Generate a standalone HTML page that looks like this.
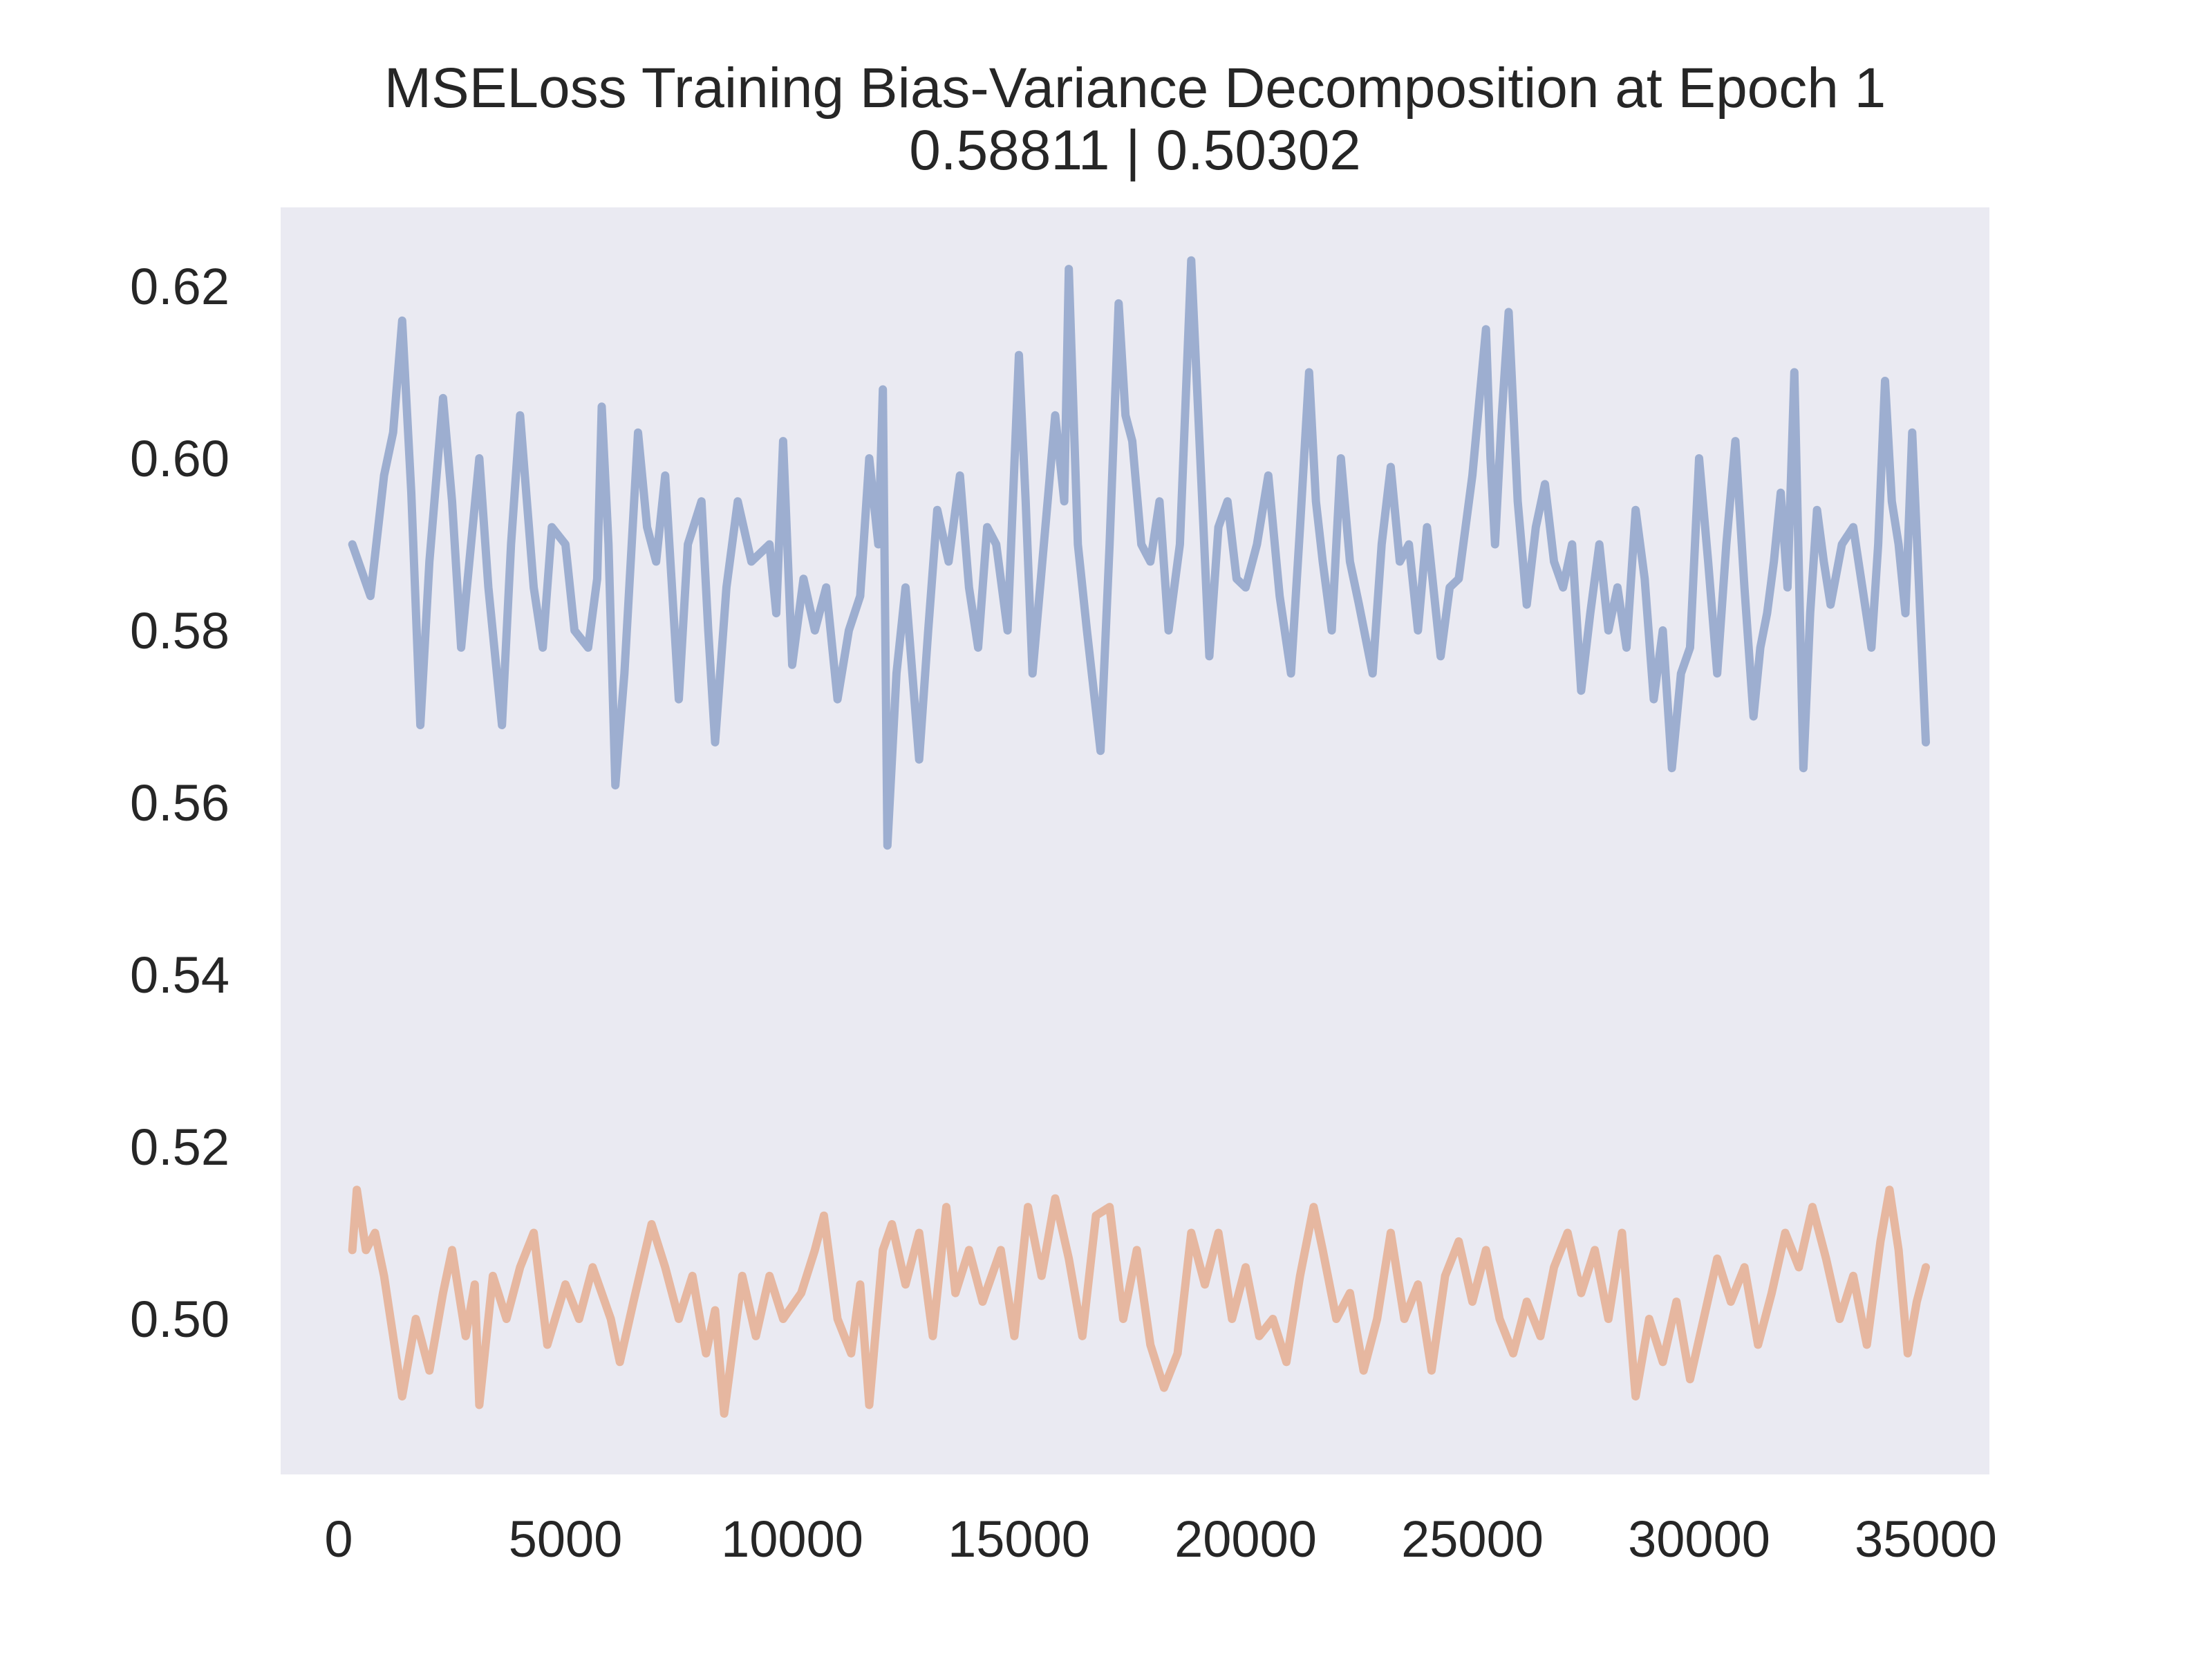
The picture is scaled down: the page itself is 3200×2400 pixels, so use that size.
<!DOCTYPE html>
<html><head><meta charset="utf-8"><style>
html,body{margin:0;padding:0;background:#fff;}
svg{display:block;font-family:"Liberation Sans",Arial,sans-serif;}
</style></head><body>
<svg id="chart" width="3200" height="2400" viewBox="0 0 3200 2400">
<rect x="0" y="0" width="3200" height="2400" fill="#ffffff"/>
<rect x="406" y="300" width="2472" height="1833" fill="#eaeaf2"/>
<text x="1642" y="155" text-anchor="middle" font-size="82" fill="#262626">MSELoss Training Bias-Variance Decomposition at Epoch 1</text>
<text x="1642" y="245" text-anchor="middle" font-size="82" fill="#262626">0.58811 | 0.50302</text>
<g id="ticks"></g>
<g id="series"></g>
</svg>
<script>
const xTicks=[0,5000,10000,15000,20000,25000,30000,35000];
const yTicks=[0.50,0.52,0.54,0.56,0.58,0.60,0.62];
const biasX=[300,700,1000,1200,1400,1600,1800,2000,2300,2500,2700,2900,3100,3300,3600,3800,4000,4300,4500,4700,5000,5200,5500,5700,5800,5950,6100,6300,6600,6800,7000,7200,7500,7700,8000,8150,8300,8550,8800,9100,9500,9650,9800,10000,10250,10500,10750,11000,11250,11500,11700,11900,12000,12100,12300,12500,12800,13000,13200,13450,13700,13900,14100,14300,14500,14750,15000,15150,15300,15550,15800,16000,16100,16300,16500,16800,17000,17200,17350,17500,17700,17900,18100,18300,18550,18800,19000,19200,19400,19600,19800,20000,20250,20500,20750,21000,21200,21400,21550,21700,21900,22100,22300,22500,22800,23000,23200,23400,23600,23800,24000,24300,24500,24700,25000,25300,25400,25500,25650,25800,26000,26200,26400,26600,26800,27000,27200,27400,27600,27800,28000,28200,28400,28600,28800,29000,29200,29400,29600,29800,30000,30200,30400,30600,30800,31000,31200,31350,31500,31650,31800,31950,32100,32300,32450,32600,32750,32900,33150,33400,33600,33800,33950,34100,34250,34400,34550,34700,34850,35000];
const biasY=[0.590,0.584,0.598,0.603,0.616,0.596,0.569,0.588,0.607,0.595,0.578,0.589,0.600,0.585,0.569,0.590,0.605,0.585,0.578,0.592,0.590,0.580,0.578,0.586,0.606,0.590,0.562,0.575,0.603,0.592,0.588,0.598,0.572,0.590,0.595,0.580,0.567,0.585,0.595,0.588,0.590,0.582,0.602,0.576,0.586,0.580,0.585,0.572,0.580,0.584,0.600,0.590,0.608,0.555,0.575,0.585,0.565,0.580,0.594,0.588,0.598,0.585,0.578,0.592,0.590,0.580,0.612,0.595,0.575,0.590,0.605,0.595,0.622,0.590,0.580,0.566,0.590,0.618,0.605,0.602,0.590,0.588,0.595,0.580,0.590,0.623,0.600,0.577,0.592,0.595,0.586,0.585,0.590,0.598,0.584,0.575,0.592,0.610,0.595,0.588,0.580,0.600,0.588,0.583,0.575,0.590,0.599,0.588,0.590,0.580,0.592,0.577,0.585,0.586,0.598,0.615,0.600,0.590,0.605,0.617,0.595,0.583,0.592,0.597,0.588,0.585,0.590,0.573,0.582,0.590,0.580,0.585,0.578,0.594,0.586,0.572,0.580,0.564,0.575,0.578,0.600,0.588,0.575,0.590,0.602,0.585,0.570,0.578,0.582,0.588,0.596,0.585,0.610,0.564,0.582,0.594,0.588,0.583,0.590,0.592,0.585,0.578,0.590,0.609,0.595,0.590,0.582,0.603,0.585,0.567];
const varX=[300,400,600,800,1000,1200,1400,1700,2000,2300,2500,2800,3000,3100,3400,3700,4000,4300,4600,5000,5300,5600,6000,6200,6500,6900,7200,7500,7800,8100,8300,8500,8900,9200,9500,9800,10200,10500,10700,11000,11300,11500,11700,12000,12200,12500,12800,13100,13400,13600,13900,14200,14600,14900,15200,15500,15800,16100,16400,16700,17000,17300,17600,17900,18200,18500,18800,19100,19400,19700,20000,20300,20600,20900,21200,21500,21700,22000,22300,22600,22900,23200,23500,23800,24100,24400,24700,25000,25300,25600,25900,26200,26500,26800,27100,27400,27700,28000,28300,28600,28900,29200,29500,29800,30100,30400,30700,31000,31300,31600,31900,32200,32500,32800,33100,33400,33700,34000,34200,34400,34600,34800,35000];
const varY=[0.508,0.515,0.508,0.510,0.505,0.498,0.491,0.500,0.494,0.503,0.508,0.498,0.504,0.490,0.505,0.500,0.506,0.510,0.497,0.504,0.500,0.506,0.500,0.495,0.502,0.511,0.506,0.500,0.505,0.496,0.501,0.489,0.505,0.498,0.505,0.500,0.503,0.508,0.512,0.500,0.496,0.504,0.490,0.508,0.511,0.504,0.510,0.498,0.513,0.503,0.508,0.502,0.508,0.498,0.513,0.505,0.514,0.507,0.498,0.512,0.513,0.500,0.508,0.497,0.492,0.496,0.510,0.504,0.510,0.500,0.506,0.498,0.500,0.495,0.505,0.513,0.508,0.500,0.503,0.494,0.500,0.510,0.500,0.504,0.494,0.505,0.509,0.502,0.508,0.500,0.496,0.502,0.498,0.506,0.510,0.503,0.508,0.500,0.510,0.491,0.500,0.495,0.502,0.493,0.500,0.507,0.502,0.506,0.497,0.503,0.510,0.506,0.513,0.507,0.500,0.505,0.497,0.509,0.515,0.508,0.496,0.502,0.506];
const NS='http://www.w3.org/2000/svg';
function xScale(v){return 490+v/35000*2296;}
function yScale(v){return 1908-(v-0.50)/0.02*249;}
const tg=document.getElementById('ticks');
xTicks.forEach(t=>{
  const el=document.createElementNS(NS,'text');
  el.setAttribute('x',xScale(t));el.setAttribute('y',2252);
  el.setAttribute('text-anchor','middle');el.setAttribute('font-size','74');el.setAttribute('fill','#262626');
  
  
  el.textContent=String(t);tg.appendChild(el);
});
yTicks.forEach(t=>{
  const el=document.createElementNS(NS,'text');
  el.setAttribute('x',332);el.setAttribute('y',yScale(t)+26);
  el.setAttribute('text-anchor','end');el.setAttribute('font-size','74');el.setAttribute('fill','#262626');
  
  
  el.textContent=t.toFixed(2);tg.appendChild(el);
});
const sg=document.getElementById('series');
function line(xs,ys,color,name){
  const p=document.createElementNS(NS,'polyline');
  p.setAttribute('points',xs.map((x,i)=>xScale(x).toFixed(1)+','+yScale(ys[i]).toFixed(1)).join(' '));
  p.setAttribute('fill','none');p.setAttribute('stroke',color);p.setAttribute('stroke-width','12');
  p.setAttribute('stroke-linejoin','round');p.setAttribute('stroke-linecap','round');
  
  
  sg.appendChild(p);
}
line(biasX,biasY,'#9daed0','bias-line');
line(varX,varY,'#e6b7a0','variance-line');
</script>
</body></html>
